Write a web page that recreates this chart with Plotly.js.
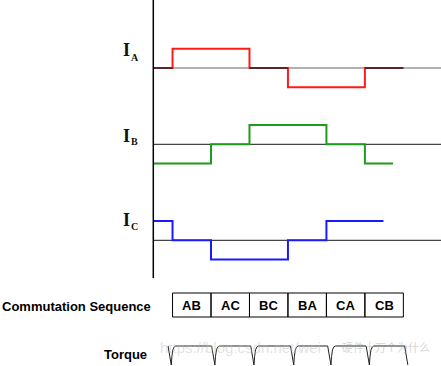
<!DOCTYPE html>
<html>
<head>
<meta charset="utf-8">
<script src="https://cdn.plot.ly/plotly-3.0.1.min.js"></script>
<style>html,body{margin:0;padding:0;background:#fff;}#chart{width:441px;height:366px;}</style>
</head>
<body>
<div id="chart"></div>
<script>
// Electrical angle (degrees) and phase current levels (+1 / 0 / -1)
const iaX = [0, 30, 150, 210, 330, 390];
const iaY = [0, 1, 0, -1, 0, 0];
const iaZeroX = [0, 30, null, 150, 210, null, 330, 390];
const iaZeroY = [0, 0, null, 0, 0, null, 0, 0];
const ibX = [0, 90, 150, 270, 330, 374];
const ibY = [-1, 0, 1, 0, -1, -1];
const icX = [0, 30, 90, 210, 270, 359];
const icY = [1, 0, -1, 0, 1, 1];

// Commutation sequence
const seqLabels = ["AB", "AC", "BC", "BA", "CA", "CB"];
const seqBounds = [30, 90, 150, 210, 270, 330, 390];

// Torque ripple (normalised), dips at each commutation
const torqueX = [23, 28, 29, 30.5, 32.5, 35,
                 91, 96, 97, 98.5, 100.5, 103,
                 152, 157, 158, 159.5, 161.5, 164,
                 214, 219, 220, 221.5, 223.5, 226,
                 272, 277, 278, 279.5, 281.5, 284,
                 332, 337, 338, 339.5, 341.5, 344,
                 392, 397];
const torqueY = [1, 0, 0.45, 0.8, 0.95, 1,
                 1, 0, 0.45, 0.8, 0.95, 1,
                 1, 0, 0.45, 0.8, 0.95, 1,
                 1, 0, 0.45, 0.8, 0.95, 1,
                 1, 0, 0.45, 0.8, 0.95, 1,
                 1, 0, 0.45, 0.8, 0.95, 1,
                 1, 0];

const W = 441, H = 366;
const px = v => v / W;
const py = v => 1 - v / H;
const XMAX = 448.7;

const traces = [
  {x: iaX, y: iaY, xaxis: 'x', yaxis: 'y', mode: 'lines', line: {shape: 'hv', color: '#ff1a1a', width: 2}, hoverinfo: 'skip'},
  {x: iaZeroX, y: iaZeroY, xaxis: 'x', yaxis: 'y', mode: 'lines', line: {color: '#5a2626', width: 2}, hoverinfo: 'skip'},
  {x: ibX, y: ibY, xaxis: 'x', yaxis: 'y2', mode: 'lines', line: {shape: 'hv', color: '#1e9a1e', width: 2}, hoverinfo: 'skip'},
  {x: icX, y: icY, xaxis: 'x', yaxis: 'y3', mode: 'lines', line: {shape: 'hv', color: '#1a1aff', width: 2}, hoverinfo: 'skip'},
  {x: torqueX, y: torqueY, xaxis: 'x', yaxis: 'y4', mode: 'lines', line: {color: '#222', width: 1}, hoverinfo: 'skip'}
];

const shapes = [
  // vertical axis
  {type: 'line', xref: 'x', yref: 'paper', x0: 0, x1: 0, y0: 1, y1: py(278), line: {color: '#000', width: 1.5}, layer: 'above'},
  // baselines
  {type: 'line', xref: 'x', yref: 'y', x0: 0, x1: XMAX, y0: 0, y1: 0, line: {color: '#999', width: 1.5}, layer: 'below'},
  {type: 'line', xref: 'x', yref: 'y2', x0: 0, x1: XMAX, y0: 0, y1: 0, line: {color: '#444', width: 1.2}, layer: 'below'},
  {type: 'line', xref: 'x', yref: 'y3', x0: 0, x1: XMAX, y0: 0, y1: 0, line: {color: '#444', width: 1.2}, layer: 'below'}
];

const annotations = [];
seqLabels.forEach((lab, i) => {
  shapes.push({type: 'rect', xref: 'x', yref: 'paper', x0: seqBounds[i], x1: seqBounds[i + 1],
    y0: py(317), y1: py(293), line: {color: '#000', width: 1}, fillcolor: 'rgba(0,0,0,0)'});
  annotations.push({xref: 'x', yref: 'paper', x: (seqBounds[i] + seqBounds[i + 1]) / 2, y: py(305),
    text: '<b>' + lab + '</b>', showarrow: false, xanchor: 'center', yanchor: 'middle',
    font: {family: 'Liberation Sans, Arial, sans-serif', size: 13, color: '#000'}});
});

const serif = 'Liberation Serif, Times New Roman, serif';
[['A', 50, 57], ['B', 135.5, 141], ['C', 220, 226]].forEach(([s, yI, yS]) => {
  annotations.push({xref: 'paper', yref: 'paper', x: px(126), y: py(yI), text: '<b>I</b>', showarrow: false,
    xanchor: 'center', yanchor: 'middle', font: {family: serif, size: 18, color: '#111'}});
  annotations.push({xref: 'paper', yref: 'paper', x: px(134.5), y: py(yS), text: '<b>' + s + '</b>', showarrow: false,
    xanchor: 'center', yanchor: 'middle', font: {family: serif, size: 10, color: '#111'}});
});

annotations.push({xref: 'paper', yref: 'paper', x: px(76.5), y: py(306.5), text: '<b>Commutation Sequence</b>',
  showarrow: false, xanchor: 'center', yanchor: 'middle', font: {family: 'Liberation Sans, Arial, sans-serif', size: 13, color: '#000'}});
annotations.push({xref: 'paper', yref: 'paper', x: px(125), y: py(354), text: '<b>Torque</b>',
  showarrow: false, xanchor: 'center', yanchor: 'middle', font: {family: 'Liberation Sans, Arial, sans-serif', size: 13, color: '#000'}});
// watermark
annotations.push({xref: 'paper', yref: 'paper', x: px(158), y: py(347), text: 'https://blog.csdn.net/wei',
  showarrow: false, xanchor: 'left', yanchor: 'middle', font: {family: 'Liberation Sans, Arial, sans-serif', size: 15, color: 'rgba(190,190,190,0.45)'}});
annotations.push({xref: 'paper', yref: 'paper', x: px(340), y: py(347), text: '硬件十万个为什么',
  showarrow: false, xanchor: 'left', yanchor: 'middle', font: {family: 'Noto Sans CJK SC, sans-serif', size: 11, color: 'rgba(170,170,170,0.5)'}});

const hidden = {visible: false, fixedrange: true, zeroline: false, showgrid: false};
const layout = {
  width: W, height: H, margin: {l: 0, r: 0, t: 0, b: 0}, showlegend: false,
  paper_bgcolor: '#fff', plot_bgcolor: '#fff',
  xaxis: Object.assign({range: [-239.1, XMAX]}, hidden),
  yaxis: Object.assign({range: [-1.8, 1.8], domain: [0.7193, 0.9091]}, hidden),
  yaxis2: Object.assign({range: [-1.8, 1.8], domain: [0.5108, 0.7007]}, hidden),
  yaxis3: Object.assign({range: [-1.8, 1.8], domain: [0.2485, 0.4384]}, hidden),
  yaxis4: Object.assign({range: [-0.0526, 1.488], domain: [0, 0.08]}, hidden),
  shapes: shapes, annotations: annotations
};
Plotly.newPlot('chart', traces, layout, {staticPlot: true, displayModeBar: false});
</script>
</body>
</html>
